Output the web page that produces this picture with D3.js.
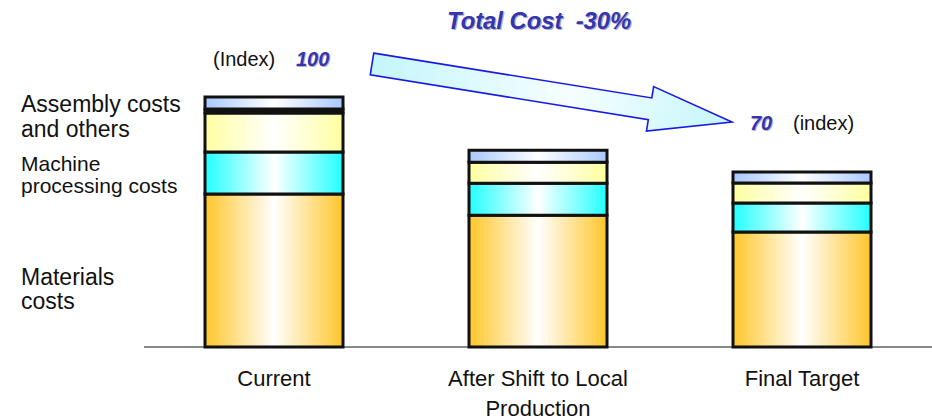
<!DOCTYPE html>
<html><head><meta charset="utf-8">
<script src="https://cdn.jsdelivr.net/npm/d3@7"></script>
<style>
html,body{margin:0;padding:0;background:#fff;}
svg{display:block;font-family:"Liberation Sans",Arial,sans-serif;}
</style></head>
<body><svg id="c" width="932" height="420"></svg>
<script>
// ---- data ----
const categories = ["Current", "After Shift to Local\nProduction", "Final Target"];
const materials = [61.2, 52.7, 46.0];
const machining = [16.8, 12.8, 11.6];
const assemblyBase = [15.6, 8.4, 8.0];
const separator = [1.6, 0, 0];
const assemblyTop = [4.8, 4.8, 4.4];
const seriesNames = ["Materials costs", "Machine processing costs", "Assembly costs and others", "separator", "Assembly top"];
const startIndex = 100, endIndex = 70;
const titleText = "Total Cost  -30%";

const svg = d3.select("#c");
const defs = svg.append("defs");
const baseY = 347;
const y = d3.scaleLinear().domain([0, 100]).range([baseY, 97]);
const x = d3.scalePoint().domain(categories).range([274, 802]);
const barW = 138;

function hGrad(id, edge, mid) {
  const g = defs.append("linearGradient").attr("id", id).attr("x1", "0").attr("x2", "1").attr("y1", "0").attr("y2", "0");
  g.append("stop").attr("offset", "0").attr("stop-color", edge);
  g.append("stop").attr("offset", "0.5").attr("stop-color", mid);
  g.append("stop").attr("offset", "1").attr("stop-color", edge);
}
hGrad("gOrange", "#ffc62a", "#ffffff");
hGrad("gCyan", "#22ffff", "#ffffff");
hGrad("gYellow", "#ffffa0", "#ffffff");
hGrad("gBlue", "#a8c8ff", "#ffffff");
const fills = ["url(#gOrange)", "url(#gCyan)", "url(#gYellow)", "#111", "url(#gBlue)"];

const rows = categories.map((c, i) => ({
  cat: c, s0: materials[i], s1: machining[i], s2: assemblyBase[i], s3: separator[i], s4: assemblyTop[i]
}));
const stack = d3.stack().keys(["s0", "s1", "s2", "s3", "s4"])(rows);

// baseline
svg.append("line").attr("x1", 144).attr("x2", 932).attr("y1", baseY).attr("y2", baseY)
  .attr("stroke", "#888").attr("stroke-width", 2);

stack.forEach((layer, li) => {
  svg.append("g").selectAll("rect").data(layer.filter(d => d[1] - d[0] > 0)).join("rect")
    .attr("x", d => x(d.data.cat) - barW / 2)
    .attr("width", barW)
    .attr("y", d => y(d[1]))
    .attr("height", d => y(d[0]) - y(d[1]))
    .attr("fill", fills[li])
    .attr("stroke", "#111")
    .attr("stroke-width", 3);
});

// category labels
categories.forEach(c => {
  const lines = c.split("\n");
  const t = svg.append("text").attr("x", x(c)).attr("y", 386).attr("text-anchor", "middle")
    .attr("font-size", 22).attr("fill", "#111");
  lines.forEach((l, k) => t.append("tspan").attr("x", x(c)).attr("dy", k === 0 ? 0 : 30).text(l));
});

// left labels
const leftLabels = [
  {lines: ["Assembly costs", "and others"], y0: 112, size: 23, lh: 25},
  {lines: ["Machine", "processing costs"], y0: 171, size: 21, lh: 22},
  {lines: ["Materials", "costs"], y0: 285, size: 23, lh: 24}
];
leftLabels.forEach(L => {
  const t = svg.append("text").attr("x", 21).attr("y", L.y0).attr("font-size", L.size).attr("fill", "#111");
  L.lines.forEach((l, k) => t.append("tspan").attr("x", 21).attr("dy", k === 0 ? 0 : L.lh).text(l));
});

// arrow
const tail = [x(categories[0]) + 98, y(startIndex) - 33];
const tip = [x(categories[2]) - 70, y(endIndex) - 50];
const dx = tip[0] - tail[0], dy = tip[1] - tail[1];
const len = Math.hypot(dx, dy);
const u = [dx / len, dy / len], n = [-u[1], u[0]];
const sw = 11, hw = 22.5, hl = 83;
const P = (a, b) => [tail[0] + u[0] * a + n[0] * b, tail[1] + u[1] * a + n[1] * b];
const pts = [P(0, -sw), P(len - hl, -sw), P(len - hl, -hw), P(len, 0), P(len - hl, hw), P(len - hl, sw), P(0, sw)];
const ag = defs.append("linearGradient").attr("id", "gArrow").attr("gradientUnits", "userSpaceOnUse")
  .attr("x1", tail[0]).attr("y1", tail[1]).attr("x2", tip[0]).attr("y2", tip[1]);
ag.append("stop").attr("offset", "0").attr("stop-color", "#c4f6fb");
ag.append("stop").attr("offset", "0.55").attr("stop-color", "#f6feff");
ag.append("stop").attr("offset", "1").attr("stop-color", "#c4f6fb");
svg.append("polygon").attr("points", pts.map(p => p.join(",")).join(" "))
  .attr("fill", "url(#gArrow)").attr("stroke", "#1a1ae6").attr("stroke-width", 1.6).attr("stroke-linejoin", "miter");

// title with shadow
[["#b0b0c0", 1.2], ["#3535b0", 0]].forEach(([col, off]) => {
  svg.append("text").attr("x", 447 + off).attr("y", 29 + off).attr("font-size", 23.8)
    .attr("font-weight", "bold").attr("font-style", "italic").attr("fill", col)
    .style("white-space", "pre").attr("xml:space", "preserve").text(titleText);
});

// index annotations
svg.append("text").attr("x", 213).attr("y", 66).attr("font-size", 20).attr("fill", "#111").text("(Index)");
[["#b0b0c0", 1], ["#3535b0", 0]].forEach(([col, off]) => {
  svg.append("text").attr("x", 296 + off).attr("y", 66 + off).attr("font-size", 20).attr("font-weight", "bold")
    .attr("font-style", "italic").attr("fill", col).text(String(startIndex));
  svg.append("text").attr("x", 750 + off).attr("y", 130 + off).attr("font-size", 20).attr("font-weight", "bold")
    .attr("font-style", "italic").attr("fill", col).text(String(endIndex));
});
svg.append("text").attr("x", 793).attr("y", 130).attr("font-size", 20).attr("fill", "#111").text("(index)");
</script></body></html>
